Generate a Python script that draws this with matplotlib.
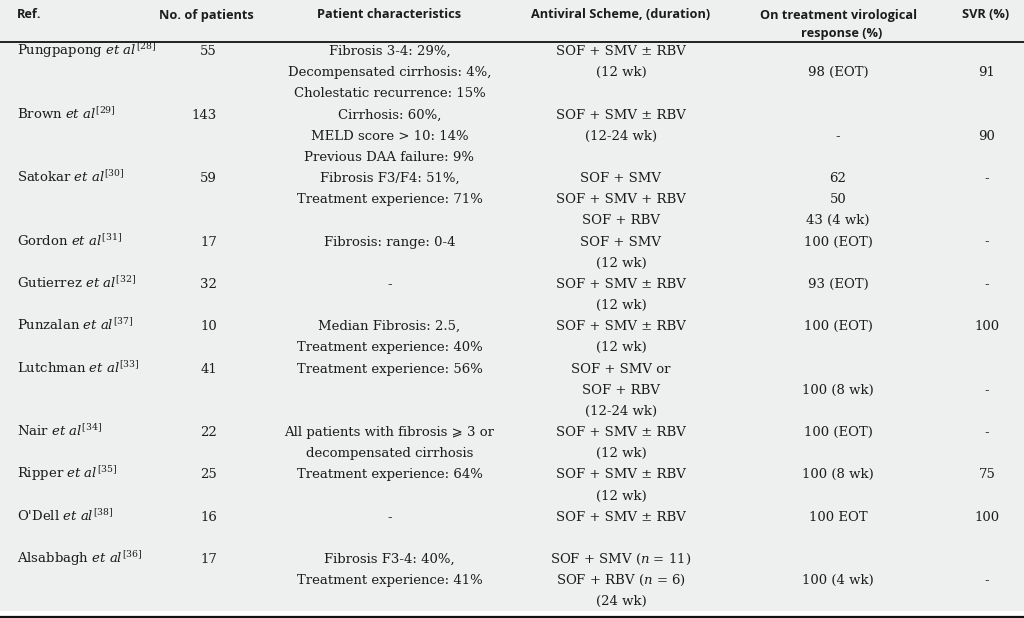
import matplotlib
matplotlib.use("Agg")
import matplotlib.pyplot as plt
from matplotlib.patches import Rectangle

plt.rcParams['mathtext.fontset'] = 'custom'
plt.rcParams['mathtext.rm'] = 'DejaVu Serif'
plt.rcParams['mathtext.it'] = 'DejaVu Serif:italic'

# ---------------- data ----------------
headers = ["Ref.", "No. of patients", "Patient characteristics",
           "Antiviral Scheme, (duration)",
           "On treatment virological", "response (%)", "SVR (%)"]
ref_authors = ["Pungpapong", "Brown", "Satokar", "Gordon", "Gutierrez",
               "Punzalan", "Lutchman", "Nair", "Ripper", "O'Dell", "Alsabbagh"]
ref_numbers = [28, 29, 30, 31, 32, 37, 33, 34, 35, 38, 36]
n_patients = [55, 143, 59, 17, 32, 10, 41, 22, 25, 16, 17]
characteristics = [
    ["Fibrosis 3-4: 29%,", "Decompensated cirrhosis: 4%,", "Cholestatic recurrence: 15%"],
    ["Cirrhosis: 60%,", "MELD score > 10: 14%", "Previous DAA failure: 9%"],
    ["Fibrosis F3/F4: 51%,", "Treatment experience: 71%"],
    ["Fibrosis: range: 0-4"],
    ["-"],
    ["Median Fibrosis: 2.5,", "Treatment experience: 40%"],
    ["Treatment experience: 56%"],
    ["All patients with fibrosis \u2a7e 3 or", "decompensated cirrhosis"],
    ["Treatment experience: 64%"],
    ["-"],
    ["Fibrosis F3-4: 40%,", "Treatment experience: 41%"],
]
schemes = [
    ["SOF + SMV \u00b1 RBV", "(12 wk)"],
    ["SOF + SMV \u00b1 RBV", "(12-24 wk)"],
    ["SOF + SMV", "SOF + SMV + RBV", "SOF + RBV"],
    ["SOF + SMV", "(12 wk)"],
    ["SOF + SMV \u00b1 RBV", "(12 wk)"],
    ["SOF + SMV \u00b1 RBV", "(12 wk)"],
    ["SOF + SMV or", "SOF + RBV", "(12-24 wk)"],
    ["SOF + SMV \u00b1 RBV", "(12 wk)"],
    ["SOF + SMV \u00b1 RBV", "(12 wk)"],
    ["SOF + SMV \u00b1 RBV"],
    ["SOF + SMV ($\\mathit{n}$ = 11)", "SOF + RBV ($\\mathit{n}$ = 6)", "(24 wk)"],
]
on_treatment = [
    ["98 (EOT)"], ["-"], ["62", "50", "43 (4 wk)"], ["100 (EOT)"], ["93 (EOT)"],
    ["100 (EOT)"], ["100 (8 wk)"], ["100 (EOT)"], ["100 (8 wk)"], ["100 EOT"],
    ["100 (4 wk)"],
]
svr = ["91", "90", "-", "-", "-", "100", "-", "-", "75", "100", "-"]

# ---------------- layout ----------------
row_start = [0, 3, 6, 9, 11, 13, 15, 18, 20, 22, 24]
result_offset = [1, 1, 0, 0, 0, 0, 1, 0, 0, 0, 1]
Y0, DY = 55.0, 21.17
X_REF, X_N, X_CHAR, X_SCH, X_OT, X_SVR = 17, 217, 389.5, 621, 838, 987

BODY = dict(family=['DejaVu Serif', 'DejaVu Sans'], fontsize=9.5, color='#1c1c1c')
HEAD = dict(family=['Open Sans', 'DejaVu Sans'], fontsize=9.2, fontweight='bold', color='#1c1c1c')

fig = plt.figure(figsize=(10.24, 6.18), dpi=100)
fig.patch.set_facecolor('white')
ax = fig.add_axes([0, 0, 1, 1])
ax.set_xlim(0, 1024)
ax.set_ylim(618, 0)
ax.axis('off')

ax.add_patch(Rectangle((0, 0), 1024, 611, facecolor='#eeefef', edgecolor='none', zorder=0))
ax.plot([0, 1024], [41.5, 41.5], color='#111111', lw=1.3, solid_capstyle='butt')
ax.plot([0, 1024], [616.5, 616.5], color='#111111', lw=1.6, solid_capstyle='butt')

# headers
hb1, hb2 = 18.5, 36.5
ax.text(X_REF, hb1, headers[0], ha='left', va='baseline', **HEAD)
ax.text(206, hb1, headers[1], ha='center', va='baseline', **HEAD)
ax.text(X_CHAR, hb1, headers[2], ha='center', va='baseline', **HEAD)
ax.text(X_SCH, hb1, headers[3], ha='center', va='baseline', **HEAD)
ax.text(X_OT, hb1, headers[4], ha='center', va='baseline', **HEAD)
ax.text(X_OT + 4, hb2, headers[5], ha='center', va='baseline', **HEAD)
ax.text(986, hb1, headers[6], ha='center', va='baseline', **HEAD)


def yline(k):
    return Y0 + k * DY


for i in range(len(ref_authors)):
    k0 = row_start[i]
    ref = "%s $\\mathit{et\\ al}^{\\mathrm{[%d]}}$" % (ref_authors[i], ref_numbers[i])
    ax.text(X_REF, yline(k0), ref, ha='left', va='baseline', **BODY)
    ax.text(X_N, yline(k0), str(n_patients[i]), ha='right', va='baseline', **BODY)
    for j, s in enumerate(characteristics[i]):
        ax.text(X_CHAR, yline(k0 + j), s, ha='center', va='baseline', **BODY)
    for j, s in enumerate(schemes[i]):
        ax.text(X_SCH, yline(k0 + j), s, ha='center', va='baseline', **BODY)
    ko = k0 + result_offset[i]
    for j, s in enumerate(on_treatment[i]):
        ax.text(X_OT, yline(ko + j), s, ha='center', va='baseline', **BODY)
    ax.text(X_SVR, yline(ko), svr[i], ha='center', va='baseline', **BODY)

fig.savefig("out.png", dpi=100, facecolor=fig.get_facecolor())
